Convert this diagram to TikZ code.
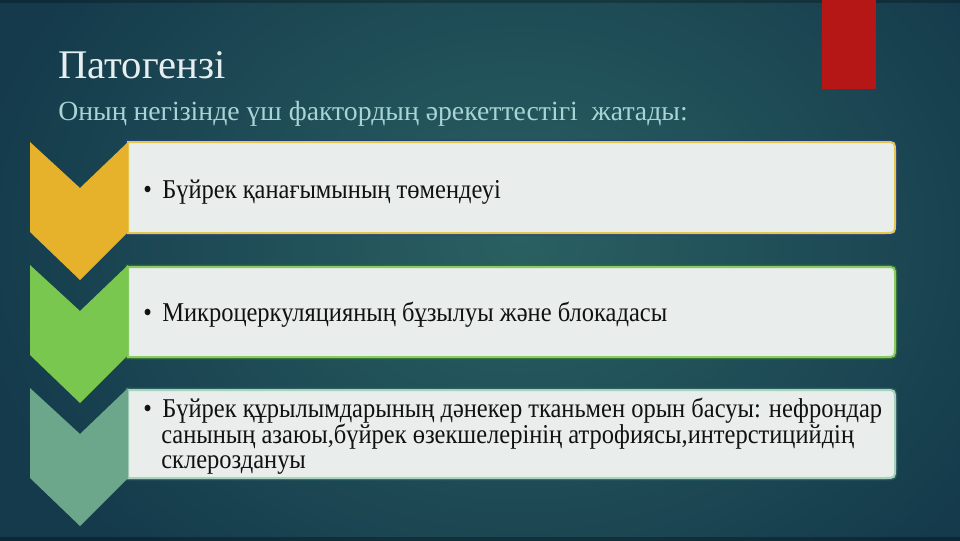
\documentclass[tikz,border=0pt]{standalone}
\usepackage{fontspec}
\setmainfont{Liberation Serif}
\newfontfamily\bodyfont[FakeStretch=0.9]{Liberation Serif}
\definecolor{bgout}{HTML}{143A4B}
\definecolor{bgin}{HTML}{2A6062}
\definecolor{redbar}{HTML}{B51616}
\definecolor{titlecol}{HTML}{E6EEF0}
\definecolor{subcol}{HTML}{A8D4D6}
\definecolor{chevY}{HTML}{E6B22B}
\definecolor{chevG}{HTML}{79C74F}
\definecolor{chevT}{HTML}{6CA78C}
\definecolor{boxfill}{HTML}{E9EDEC}
\definecolor{edgeY}{HTML}{E3C84E}
\definecolor{edgeG}{HTML}{8ACB66}
\definecolor{edgeT}{HTML}{A6D2BE}
\definecolor{shadeY}{HTML}{24427A}
\definecolor{shadeG}{HTML}{2E6A3A}
\definecolor{shadeT}{HTML}{2E5F60}
\definecolor{txt}{HTML}{111111}
\tikzset{
  itemtext/.style={anchor=base west, inner sep=0, text=txt, align=left,
    font=\bodyfont\fontsize{20.4}{19.2}\selectfont},
  boxouter/.style={line width=3.5pt},
  boxinner/.style={line width=1.5pt, fill=boxfill}
}
\newcommand{\bul}{\makebox[14.25pt][l]{•}}
\newcommand{\boxpath}[2]{(128,#1) -- (885,#1) .. controls (895,#1) .. (895,#1+10) -- (895,#2-10) .. controls (895,#2) .. (885,#2) -- (128,#2) -- cycle}
\begin{document}
\begin{tikzpicture}[x=0.75pt,y=-0.75pt]
\useasboundingbox (0,0) rectangle (960,540);
% background
\begin{scope}
\clip (0,0) rectangle (960,540);
\fill[bgout] (-5,-5) rectangle (965,545);
\shade[inner color=bgin, outer color=bgout] (520,240) ellipse [x radius=560, y radius=440];
\fill[black, opacity=0.25] (-5,-5) rectangle (965,3);
\fill[black, opacity=0.3] (-5,537) rectangle (965,545);
\end{scope}
% red bar
\fill[redbar] (822,-2) rectangle (876,89);
% title
\node[anchor=base west, inner sep=0, text=titlecol, font=\fontsize{30.5}{36}\selectfont] (title) at (58,78) {Патогензі};
\node[anchor=base west, inner sep=0, text=subcol, font=\fontsize{20.8}{25}\selectfont] (subtitle) at (58,120) {Оның негізінде үш фактордың әрекеттестігі\ \ жатады:};
% boxes
\draw[boxouter, draw=shadeY] \boxpath{142}{233};
\draw[boxinner, draw=edgeY] \boxpath{142}{233};
\draw[boxouter, draw=shadeG] \boxpath{267}{357};
\draw[boxinner, draw=edgeG] \boxpath{267}{357};
\draw[boxouter, draw=shadeT] \boxpath{390}{478};
\draw[boxinner, draw=edgeT] \boxpath{390}{478};
% chevrons
\foreach \T/\c in {142/chevY, 265/chevG, 388/chevT}
  \fill[\c] (30,\T) -- (80,\T+46) -- (128,\T) -- (128,\T+90) -- (80,\T+138) -- (30,\T+90) -- cycle;
% texts
\node[itemtext] (item1) at (143,198) {\bul Бүйрек қанағымының төмендеуі};
\node[itemtext] (item2) at (143,321) {\bul Микроцеркуляцияның бұзылуы және блокадасы};
\node[itemtext] (item3a) at (143,417) {\bul Бүйрек құрылымдарының дәнекер тканьмен орын басуы: нефрондар};
\node[itemtext] (item3b) at (161,443) {санының азаюы,бүйрек өзекшелерінің атрофиясы,интерстицийдің};
\node[itemtext] (item3c) at (161,468) {склероздануы};
\end{tikzpicture}
\end{document}
